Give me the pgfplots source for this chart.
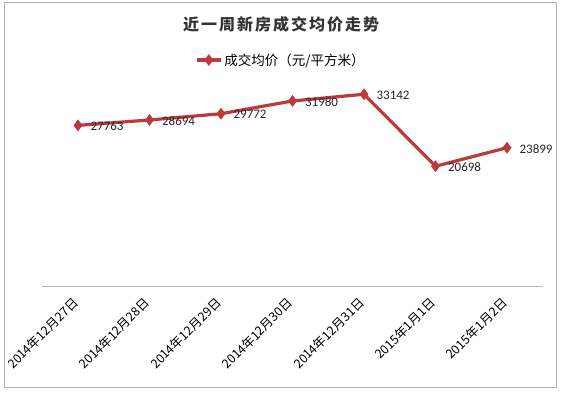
\documentclass[border=0pt]{standalone}
\usepackage{fontspec}
\setmainfont{Carlito}
\newfontfamily\cjk{Noto Sans CJK SC}
\usepackage{pgfplots}
\pgfplotsset{compat=1.18}
\definecolor{lred}{RGB}{188,58,62}
\newcommand{\tsp}{\hspace{2pt}}
\begin{document}
\begin{tikzpicture}[x=1pt,y=1pt]
\useasboundingbox (0,0) rectangle (562,393);
\draw[gray!60, line width=1pt] (4,5) rectangle (556,390);
\node[font=\cjk\bfseries\fontsize{16}{19}\selectfont, text=black!80] at (281,369) {近\tsp 一\tsp 周\tsp 新\tsp 房\tsp 成\tsp 交\tsp 均\tsp 价\tsp 走\tsp 势};
\begin{axis}[
  at={(42.25pt,107pt)}, anchor=south west,
  scale only axis, width=500.5pt, height=202.5pt,
  xmin=-0.5, xmax=6.5, ymin=0, ymax=35000,
  axis x line=bottom, axis y line=none,
  x axis line style={-, draw=gray!55, line width=0.8pt},
  ytick=\empty,
  xtick={0,...,6},
  xticklabels={2014年12月27日,2014年12月28日,2014年12月29日,2014年12月30日,2014年12月31日,2015年1月1日,2015年1月2日},
  xticklabel style={font=\cjk\fontsize{12.5}{14}\selectfont, rotate=45, anchor=east, text=black},
  xticklabel shift=10pt,
  xtick style={draw=none},
  clip=false,
  legend style={at={(axis description cs:0.477,1.116)}, anchor=center, draw=none, fill=none, font=\cjk\fontsize{13.5}{15}\selectfont},
  legend image code/.code={\draw[mark repeat=2,mark phase=2,#1] plot coordinates {(0pt,0pt) (12pt,0pt) (24pt,0pt)};},
  nodes near coords, point meta=explicit symbolic,
  every node near coord/.append style={font=\fontsize{13}{15}\selectfont, anchor=west, xshift=9pt, yshift=-1pt, text=black!85},
]
\addplot[color=lred, line width=3.2pt, mark=diamond*, mark size=5.5pt, mark options={solid, line width=0.5pt}] coordinates {
(0,27763) [27763]
(1,28694) [28694]
(2,29772) [29772]
(3,31980) [31980]
(4,33142) [33142]
(5,20698) [20698]
(6,23899) [23899]
};
\legend{成交均价（元/平方米）}
\end{axis}
\end{tikzpicture}
\end{document}
